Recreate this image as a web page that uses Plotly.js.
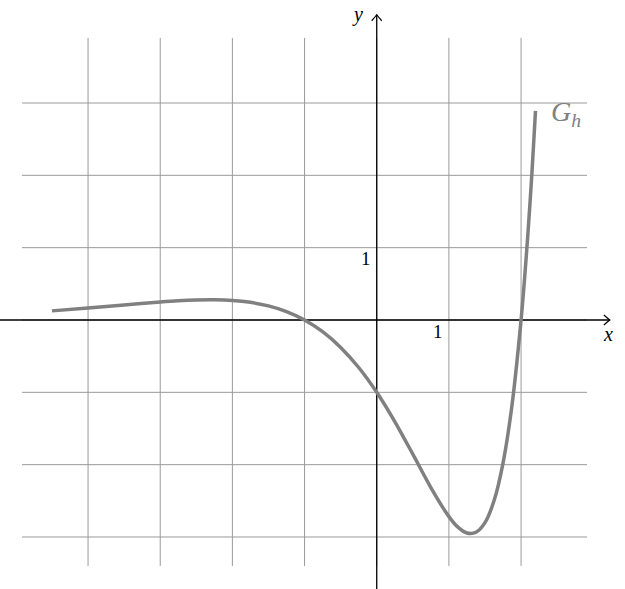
<!DOCTYPE html>
<html>
<head>
<meta charset="utf-8">
<script src="https://cdn.plot.ly/plotly-3.0.1.min.js"></script>
<style>html,body{margin:0;padding:0;background:#fff;}#chart{width:625px;height:589px;}</style>
</head>
<body>
<div id="chart"></div>
<script>
// Curve G_h
const curveX = [-4.5, -4, -3.5, -3, -2.75, -2.5, -2.25, -2, -1.75, -1.5, -1.25, -1, -0.75, -0.5, -0.25, 0, 0.25, 0.5, 0.75, 1, 1.125, 1.25, 1.375, 1.5, 1.625, 1.75, 1.875, 2, 2.05, 2.1, 2.15, 2.2];
const curveY = [0.126, 0.165, 0.208, 0.249, 0.266, 0.277, 0.280, 0.271, 0.244, 0.195, 0.116, 0, -0.162, -0.379, -0.657, -1, -1.404, -1.855, -2.316, -2.718, -2.864, -2.945, -2.935, -2.801, -2.500, -1.978, -1.172, 0, 0.592, 1.266, 2.028, 2.89];

const gridX = [-4, -3, -2, -1, 0, 1, 2];
const gridY = [-3, -2, -1, 0, 1, 2, 3];
const gridXExtent = [-4.915, 2.914];
const gridYExtent = [-3.40, 3.90];
const axisXExtent = [-5.3, 3.23];
const axisYExtent = [-3.8, 4.22];
const tickLabelX = ["1"], tickLabelXPos = [1];
const tickLabelY = ["1"], tickLabelYPos = [1];

const shapes = [];
gridX.forEach(v => shapes.push({type:'line', xref:'x', yref:'y', x0:v, x1:v, y0:gridYExtent[0], y1:gridYExtent[1], line:{color:'#9a9a9a', width:1}, layer:'below'}));
gridY.forEach(v => shapes.push({type:'line', xref:'x', yref:'y', y0:v, y1:v, x0:gridXExtent[0], x1:gridXExtent[1], line:{color:'#9a9a9a', width:1}, layer:'below'}));
// axes
shapes.push({type:'line', xref:'x', yref:'y', x0:axisXExtent[0], x1:axisXExtent[1], y0:0, y1:0, line:{color:'#000', width:1.3}, layer:'below'});
shapes.push({type:'line', xref:'x', yref:'y', x0:0, x1:0, y0:axisYExtent[0], y1:axisYExtent[1], line:{color:'#000', width:1.3}, layer:'below'});
// arrow heads (open, pixel-sized)
shapes.push({type:'path', xref:'x', yref:'y', xsizemode:'pixel', ysizemode:'pixel', xanchor:axisXExtent[1], yanchor:0,
  path:'M -6 5 Q -2 1.5 0 0 Q -2 -1.5 -6 -5', line:{color:'#000', width:1.2}});
shapes.push({type:'path', xref:'x', yref:'y', xsizemode:'pixel', ysizemode:'pixel', xanchor:0, yanchor:axisYExtent[1],
  path:'M -5 -6 Q -1.5 -2 0 0 Q 1.5 -2 5 -6', line:{color:'#000', width:1.2}});

const serif = '"Liberation Serif", "DejaVu Serif", serif';
const annotations = [
  {x:3.2, y:-0.19, xref:'x', yref:'y', text:'<i>x</i>', showarrow:false, font:{family:serif, size:20, color:'#000'}},
  {x:-0.26, y:4.23, xref:'x', yref:'y', text:'<i>y</i>', showarrow:false, font:{family:serif, size:20, color:'#000'}},
  {x:tickLabelXPos[0]-0.15, y:-0.16, xref:'x', yref:'y', text:tickLabelX[0], showarrow:false, font:{family:serif, size:19, color:'#000'}},
  {x:-0.15, y:tickLabelYPos[0]-0.15, xref:'x', yref:'y', text:tickLabelY[0], showarrow:false, font:{family:serif, size:19, color:'#000'}},
  {x:2.62, y:2.86, xref:'x', yref:'y', text:'<i>G</i><sub><i>h</i></sub>', showarrow:false, font:{family:serif, size:28, color:'#808080'}}
];

const trace = {x:curveX, y:curveY, mode:'lines', line:{color:'#808080', width:3.5, shape:'spline', smoothing:0.8}, hoverinfo:'skip'};

const layout = {
  width:625, height:589,
  margin:{l:0, r:0, t:0, b:0},
  paper_bgcolor:'#fff', plot_bgcolor:'#fff',
  showlegend:false,
  font:{family:serif},
  xaxis:{range:[-5.22, 3.44], showgrid:false, zeroline:false, showticklabels:false, ticks:'', showline:false, fixedrange:true},
  yaxis:{range:[-3.719, 4.424], showgrid:false, zeroline:false, showticklabels:false, ticks:'', showline:false, fixedrange:true},
  shapes:shapes,
  annotations:annotations
};
Plotly.newPlot('chart', [trace], layout, {displayModeBar:false, staticPlot:true});
</script>
</body>
</html>
